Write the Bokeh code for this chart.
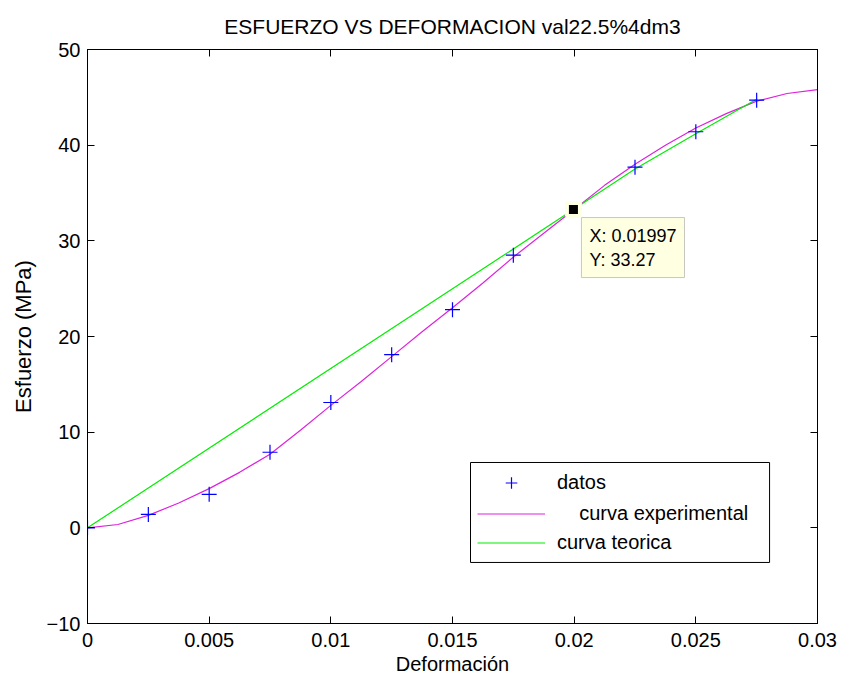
from bokeh.plotting import figure
from bokeh.models import LinearAxis, FixedTicker, Range1d, Legend, LegendItem, Label, BoxAnnotation
from bokeh.embed import file_html
from bokeh.resources import INLINE

# ---- data ----
title_text = "ESFUERZO VS DEFORMACION val22.5%4dm3"
x_ticks = [0, 0.005, 0.01, 0.015, 0.02, 0.025, 0.03]
x_tick_labels = ["0", "0.005", "0.01", "0.015", "0.02", "0.025", "0.03"]
y_ticks = [-10, 0, 10, 20, 30, 40, 50]

datos_x = [0, 0.0025, 0.005, 0.0075, 0.01, 0.0125, 0.015, 0.0175, 0.02, 0.0225, 0.025, 0.0275]
datos_y = [0, 1.4, 3.5, 7.9, 13.1, 18.1, 22.8, 28.5, 33.3, 37.7, 41.4, 44.7]

exp_x = [0, 0.00125, 0.0025, 0.00375, 0.005, 0.00625, 0.0075, 0.00875, 0.01, 0.01125,
         0.0125, 0.01375, 0.015, 0.01625, 0.0175, 0.01875, 0.02, 0.02125, 0.0225,
         0.02375, 0.025, 0.02625, 0.0275, 0.02875, 0.03]
exp_y = [0, 0.35, 1.3, 2.6, 4.1, 5.8, 7.7, 10.2, 12.8, 15.3,
         17.9, 20.5, 23.0, 25.6, 28.3, 30.8, 33.27, 35.8, 38.0,
         40.0, 41.8, 43.3, 44.6, 45.4, 45.8]

teo_x = [0, 0.01997, 0.0225, 0.025, 0.0275]
teo_y = [0, 33.27, 37.5, 41.2, 44.8]

tip_x = 0.01997
tip_y = 33.27

FONT = "Liberation Sans"

p = figure(frame_width=730, frame_height=574,
           output_backend="svg", toolbar_location=None,
           x_range=Range1d(0, 0.03), y_range=Range1d(-10, 50),
           min_border_left=87, min_border_right=27, min_border_top=49, min_border_bottom=60,
           x_axis_label="Deformación", y_axis_label="Esfuerzo (MPa)")

p.background_fill_color = "white"
p.border_fill_color = "white"
p.outline_line_color = "black"
p.outline_line_width = 1
p.xgrid.visible = False
p.ygrid.visible = False

p.title.text = title_text
p.title.text_font = FONT
p.title.text_font_size = "21px"
p.title.text_font_style = "normal"
p.title.text_color = "black"
p.title.align = "center"
p.title.standoff = 24


def style_axis(ax, ticks, show_labels=True):
    ax.ticker = FixedTicker(ticks=ticks)
    ax.major_tick_in = 7
    ax.major_tick_out = 0
    ax.minor_tick_line_color = None
    ax.axis_line_color = "black"
    ax.major_tick_line_color = "black"
    ax.major_label_text_font = FONT
    ax.major_label_text_color = "black"
    ax.axis_label_text_font = FONT
    ax.axis_label_text_font_style = "normal"
    ax.axis_label_text_font_size = "20px"
    ax.axis_label_text_color = "black"
    if show_labels:
        ax.major_label_text_font_size = "20px"
    else:
        ax.major_label_text_font_size = "1px"
        ax.major_label_text_color = None
        ax.major_label_standoff = 0


style_axis(p.xaxis[0], x_ticks)
p.xaxis[0].major_label_overrides = {t: lab for t, lab in zip(x_ticks, x_tick_labels)}
p.xaxis[0].major_label_standoff = 9
p.xaxis[0].axis_label_standoff = 3
style_axis(p.yaxis[0], y_ticks)
p.yaxis[0].major_label_standoff = 7
p.yaxis[0].axis_label_standoff = 8
p.yaxis[0].axis_label_text_font_size = "22px"

top_ax = LinearAxis()
style_axis(top_ax, x_ticks, show_labels=False)
p.add_layout(top_ax, "above")
right_ax = LinearAxis()
style_axis(right_ax, y_ticks, show_labels=False)
p.add_layout(right_ax, "right")

r_e = p.line(exp_x, exp_y, line_color="#dd22dd", line_width=1.2)
r_t = p.line(teo_x, teo_y, line_color="#00ee00", line_width=1.2)
r_d = p.scatter(datos_x, datos_y, marker="cross", size=15, line_color="#0000ff", line_width=1.2)

p.scatter([tip_x], [tip_y], marker="square", size=13, fill_color="black",
          line_color="#ffffe1", line_width=4)

tip = Label(x=tip_x, y=tip_y, x_offset=8, y_offset=-8,
            text="X: 0.01997\nY: 33.27", text_align="left", text_baseline="top",
            text_font=FONT, text_font_size="18px", text_color="black",
            background_fill_color="#ffffe1", border_line_color="#c8c8c0",
            padding=8)
p.add_layout(tip)

# legend frame (white box with black border)
p.add_layout(BoxAnnotation(left=0.01574, right=0.02803, top=6.83, bottom=-3.62,
                           fill_color="white", fill_alpha=1,
                           line_color="black", line_width=1, line_alpha=1))


def mk_legend(items, loc):
    lg = Legend(items=items, location=loc)
    lg.label_text_font = FONT
    lg.label_text_font_size = "20px"
    lg.label_text_color = "black"
    lg.border_line_color = None
    lg.background_fill_alpha = 0
    lg.padding = 8
    lg.spacing = 0
    lg.margin = 0
    lg.glyph_width = 68
    lg.glyph_height = 29
    lg.label_height = 29
    lg.label_width = 203
    lg.label_standoff = 12
    return lg


# line entries first (drawn before the marker entry)
p.add_layout(mk_legend([
    LegendItem(label="\u00a0\u00a0\u00a0\u00a0curva experimental", renderers=[r_e]),
    LegendItem(label="curva teorica", renderers=[r_t]),
], (390, 66)))
p.add_layout(mk_legend([
    LegendItem(label="datos", renderers=[r_d]),
], (390, 126)))

open("out.html", "w").write(file_html(p, INLINE))
